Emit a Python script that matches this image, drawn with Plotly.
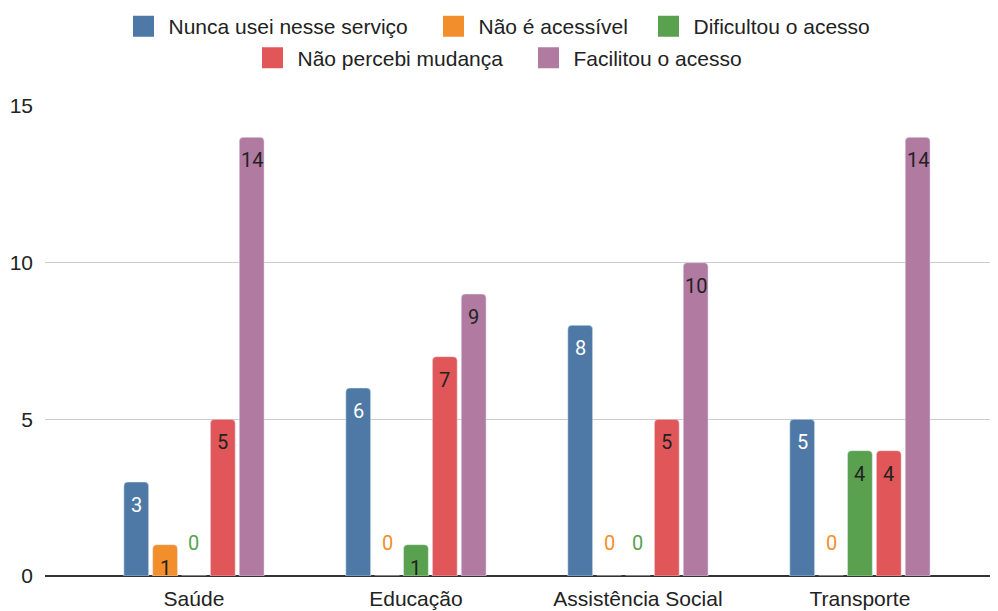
import plotly.graph_objects as go

categories = ["Saúde", "Educação", "Assistência Social", "Transporte"]
series_names = ["Nunca usei nesse serviço", "Não é acessível", "Dificultou o acesso",
                "Não percebi mudança", "Facilitou o acesso"]
nunca = [3, 6, 8, 5]
nao_acessivel = [1, 0, 0, 0]
dificultou = [0, 1, 0, 4]
nao_percebi = [5, 7, 5, 4]
facilitou = [14, 9, 10, 14]
series_values = [nunca, nao_acessivel, dificultou, nao_percebi, facilitou]
colors = ["#4e79a7", "#f28e2b", "#59a14f", "#e15759", "#b07aa1"]
label_colors = ["#ffffff", "#222222", "#222222", "#222222", "#222222"]
y_ticks = [0, 5, 10, 15]

FONT = "Liberation Sans, Arial, sans-serif"
LFONT = "Roboto, Liberation Sans, sans-serif"

# figure is drawn inside the page body (8px default margin)
W, H = 990, 603
# legend entry placement (figure px): left of box, centre y
legend_pos = [(110.5, 18.5), (420.5, 18.5), (635.5, 18.5), (239.5, 50), (515.5, 50)]

fig = go.Figure()
legend_keys = ["legend", "legend2", "legend3", "legend4", "legend5"]
for i, (name, vals) in enumerate(zip(series_names, series_values)):
    fig.add_trace(go.Bar(
        x=categories, y=vals, name=name, marker=dict(color=colors[i], cornerradius=4),
        showlegend=False, hoverinfo="x+y+name",
    ))
    fig.add_trace(go.Scatter(
        x=[None], y=[None], mode="markers", name=name,
        marker=dict(symbol="square", size=16, color=colors[i],
                    line=dict(color=colors[i], width=5)),
        legend=legend_keys[i], showlegend=True,
    ))

# data labels
slot = 222 * 0.65 / 5
annotations = []
for i, vals in enumerate(series_values):
    for c, v in zip(categories, vals):
        if v == 0:
            annotations.append(dict(
                x=c, y=0, xref="x", yref="y", text=str(v), showarrow=False,
                xshift=(i - 2) * slot, yshift=33, yanchor="middle",
                font=dict(family=LFONT, size=20, color=colors[i]),
            ))
        else:
            annotations.append(dict(
                x=c, y=v, xref="x", yref="y", text=str(v), showarrow=False,
                xshift=(i - 2) * slot, yshift=-23, yanchor="middle",
                font=dict(family=LFONT, size=20, color=label_colors[i]),
            ))

legends = {}
for key, (lx, ly) in zip(legend_keys, legend_pos):
    legends[key] = dict(orientation="h", xref="container", yref="container",
                        x=lx / W, y=1 - ly / H, xanchor="left", yanchor="middle",
                        font=dict(family=FONT, size=21, color="#222222"),
                        itemsizing="trace", itemwidth=40, bgcolor="rgba(0,0,0,0)")

fig.update_layout(
    width=W, height=H,
    margin=dict(l=37, r=0, t=98, b=35, autoexpand=False),
    paper_bgcolor="white", plot_bgcolor="white",
    barmode="group", bargap=0.35, bargroupgap=0.14,
    font=dict(family=FONT, size=21, color="#222222"),
    annotations=annotations,
    xaxis=dict(range=[-0.671, 3.622], showgrid=False, showline=False, zeroline=False,
               tickfont=dict(family=FONT, size=21, color="#222222"), ticklabelstandoff=8),
    yaxis=dict(range=[0, 15], tickvals=y_ticks, showgrid=True, gridcolor="#cccccc",
               gridwidth=1, zeroline=True, zerolinecolor="#333333", zerolinewidth=2,
               showline=False, tickfont=dict(family=FONT, size=21, color="#222222"),
               ticklabelstandoff=11),
    **legends,
)

fig.write_html("out.html")
